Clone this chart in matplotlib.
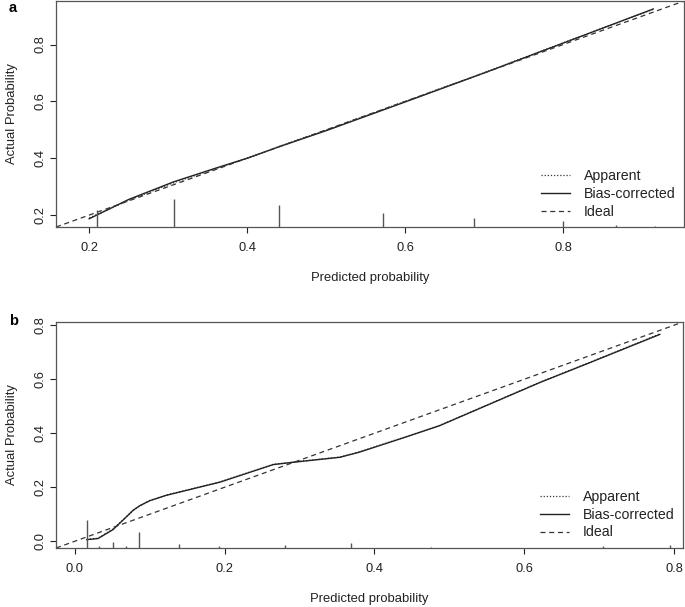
import matplotlib.pyplot as plt

plt.rcParams['font.family'] = ['Liberation Sans', 'DejaVu Sans']

# panel a: calibration curve
a_pred = [0.200, 0.250, 0.307, 0.360, 0.400, 0.440, 0.500, 0.600, 0.700, 0.800, 0.914]
a_bias = [0.187, 0.255, 0.317, 0.365, 0.400, 0.440, 0.497, 0.598, 0.700, 0.805, 0.925]
a_app = [0.190, 0.252, 0.314, 0.363, 0.400, 0.441, 0.499, 0.600, 0.701, 0.806, 0.924]
a_rug_x = [0.210, 0.307, 0.440, 0.572, 0.687, 0.800, 0.867, 0.916]
a_rug_h = [0.060, 0.098, 0.077, 0.049, 0.032, 0.021, 0.007, 0.004]
a_lim = (0.158, 0.953)
a_ticks = [0.2, 0.4, 0.6, 0.8]

# panel b
b_pred = [0.016, 0.031, 0.051, 0.065, 0.078, 0.087, 0.100, 0.122, 0.194, 0.265, 0.300,
          0.354, 0.380, 0.443, 0.487, 0.554, 0.621, 0.688, 0.781]
b_bias = [0.006, 0.010, 0.043, 0.080, 0.115, 0.132, 0.150, 0.170, 0.219, 0.284, 0.295,
          0.311, 0.330, 0.387, 0.428, 0.508, 0.588, 0.662, 0.766]
b_app = [0.007, 0.011, 0.045, 0.081, 0.114, 0.131, 0.151, 0.171, 0.220, 0.285, 0.296,
         0.312, 0.331, 0.388, 0.429, 0.509, 0.589, 0.663, 0.768]
b_rug_x = [0.016, 0.032, 0.051, 0.068, 0.086, 0.139, 0.192, 0.280, 0.369, 0.475, 0.705, 0.794]
b_rug_h = [0.103, 0.007, 0.022, 0.007, 0.059, 0.015, 0.007, 0.011, 0.018, 0.005, 0.007, 0.011]
b_lim = (-0.025, 0.812)
b_ticks = [0.0, 0.2, 0.4, 0.6, 0.8]

fig = plt.figure(figsize=(6.85, 6.07), dpi=100)
ax_a = fig.add_axes([0.0818, 0.626, 0.9168, 0.3723])
ax_b = fig.add_axes([0.0818, 0.0972, 0.9153, 0.3723])

panels = [(ax_a, a_pred, a_bias, a_app, a_rug_x, a_rug_h, a_lim, a_ticks, 'a', 1.0),
          (ax_b, b_pred, b_bias, b_app, b_rug_x, b_rug_h, b_lim, b_ticks, 'b', 1.035)]

for ax, px, bias, app, rx, rh, lim, ticks, tag, tag_y in panels:
    ax.plot(px, app, color='#333333', lw=0.9, ls=(0, (1, 1.5)), label='Apparent')
    ax.plot(px, bias, color='#222222', lw=1.0, ls='-', label='Bias-corrected')
    ax.plot(lim, lim, color='#333333', lw=0.9, ls=(0, (4, 3)), label='Ideal')
    ax.vlines(rx, lim[0], [lim[0] + h for h in rh], color='#555555', lw=1.0)
    ax.set_xlim(lim)
    ax.set_ylim(lim)
    ax.set_xticks(ticks)
    ax.set_yticks(ticks)
    ax.set_xticklabels([f'{t:.1f}' for t in ticks])
    ax.set_yticklabels([f'{t:.1f}' for t in ticks], rotation=90, va='center')
    ax.tick_params(direction='out', length=4, width=0.8, colors='#222222',
                   labelsize=9.3, pad=3)
    ax.tick_params(axis='x', pad=7)
    for sp in ax.spines.values():
        sp.set_color('#555555')
        sp.set_linewidth(0.9)
    ax.set_xlabel('Predicted probability', fontsize=9.4, labelpad=13, color='#222222')
    ax.set_ylabel('Actual Probability', fontsize=9.4, labelpad=12, color='#222222')
    leg = ax.legend(loc='lower right', frameon=False, fontsize=10.2, handlelength=2.0,
                    handletextpad=1.0, labelspacing=0.25, borderaxespad=0.2)
    for t in leg.get_texts():
        t.set_color('#222222')
    ax.text(-0.075, tag_y, tag, transform=ax.transAxes, fontsize=10.5,
            fontweight='bold', va='top', ha='left')

fig.savefig('out.png', dpi=100)
